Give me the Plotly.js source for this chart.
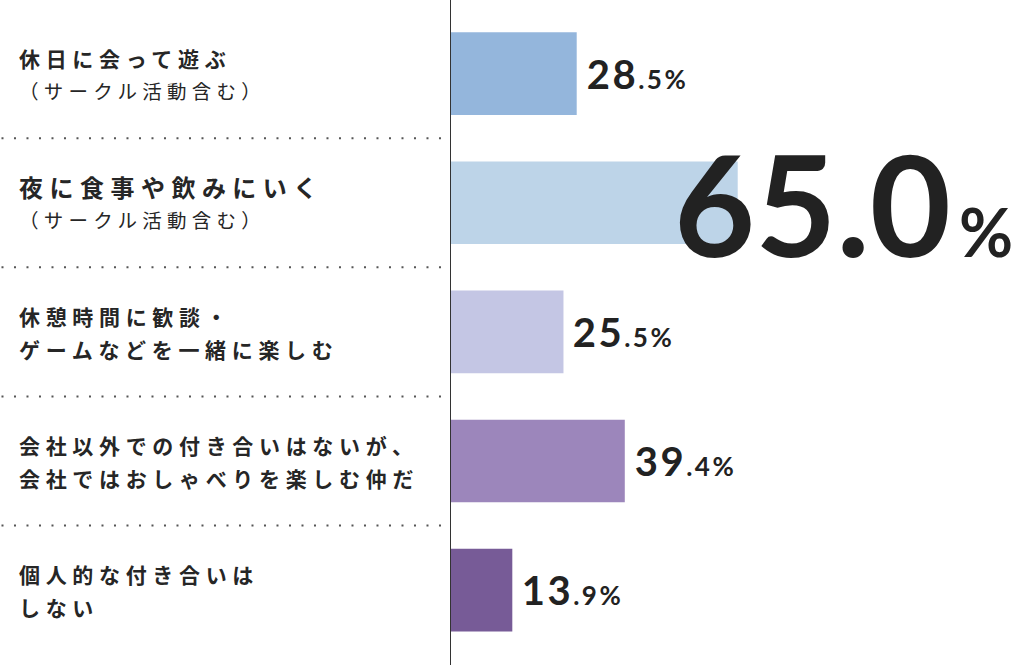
<!DOCTYPE html>
<html>
<head>
<meta charset="utf-8">
<script src="https://cdn.plot.ly/plotly-3.0.1.min.js"></script>
<style>
  html, body { margin: 0; padding: 0; background: #fff; }
  #chart { width: 1020px; height: 665px; }
</style>
</head>
<body>
<div id="chart"></div>
<script>
// answers, top to bottom
const lineOne = [
  '休日に会って遊ぶ',
  '夜に食事や飲みにいく',
  '休憩時間に歓談・',
  '会社以外での付き合いはないが、',
  '個人的な付き合いは'
];
const lineTwo = [
  '（サークル活動含む）',
  '（サークル活動含む）',
  'ゲームなどを一緒に楽しむ',
  '会社ではおしゃべりを楽しむ仲だ',
  'しない'
];
const lightSecond = [true, true, false, false, false];
const values = [28.5, 65.0, 25.5, 39.4, 13.9];
const barColors = ['#94b6dc', '#bdd4e8', '#c4c6e4', '#9c86bb', '#775b97'];

const categories = lineOne.map((s, i) => s + lineTwo[i]);
const peak = values.indexOf(Math.max(...values));

const trace = {
  type: 'bar',
  orientation: 'h',
  y: categories,
  x: values,
  width: 0.64,
  marker: { color: barColors, line: { width: 0 } },
  hoverinfo: 'skip'
};

const annotations = [];

// value labels first (indices 0..4)
values.forEach((v, i) => {
  const parts = v.toFixed(1).split('.');
  let txt, size;
  if (i === peak) {
    size = 140;
    txt = v.toFixed(1) + '<span style="font-size:66px">\u2009%</span>';
  } else {
    size = 40;
    txt = parts[0] + '<span style="font-size:26px">.' + parts[1] + '%</span>';
  }
  annotations.push({
    x: v, y: categories[i], xref: 'x', yref: 'y',
    text: txt, showarrow: false,
    xanchor: 'left', yanchor: 'middle',
    xshift: i === peak ? -66 : 14,
    yshift: 0,
    font: { family: 'Lato, sans-serif', size: size, color: '#222', weight: 700 }
  });
});

// category labels, two lines each
categories.forEach((c, i) => {
  annotations.push({
    x: 0, y: c, xref: 'paper', yref: 'y',
    text: lineOne[i], showarrow: false,
    xanchor: 'left', yanchor: 'middle', align: 'left',
    xshift: -434, yshift: 16,
    font: { family: '"Noto Sans CJK JP", sans-serif', size: i === peak ? 24 : 21, color: '#262626', weight: 700 }
  });
  annotations.push({
    x: 0, y: c, xref: 'paper', yref: 'y',
    text: lineTwo[i], showarrow: false,
    xanchor: 'left', yanchor: 'middle', align: 'left',
    xshift: -434, yshift: -17,
    font: { family: '"Noto Sans CJK JP", sans-serif', size: lightSecond[i] ? 19.5 : 21, color: '#262626', weight: lightSecond[i] ? 400 : 700 }
  });
});

// letter spacing: Japanese labels and the small value labels
const labelSel = [];
for (let k = values.length; k < annotations.length; k++) {
  labelSel.push('g.annotation[data-index="' + k + '"] text');
}
const valueSel = [];
values.forEach((v, k) => {
  if (k !== peak) valueSel.push('g.annotation[data-index="' + k + '"] text');
});
const st = document.createElement('style');
st.textContent = labelSel.join(',') + '{letter-spacing:0.27em;}' +
  valueSel.join(',') + '{letter-spacing:2.5px;}';
document.head.appendChild(st);

// dotted separators between rows
const shapes = [];
for (let k = 0; k < categories.length - 1; k++) {
  shapes.push({
    type: 'line', xref: 'paper', yref: 'y',
    x0: -0.79, x1: -0.014, y0: k + 0.5, y1: k + 0.5,
    line: { color: '#555', width: 2, dash: '2px,10.5px' }
  });
}

const layout = {
  width: 1020,
  height: 665,
  margin: { l: 451, r: 0, t: 0, b: 0 },
  paper_bgcolor: '#fff',
  plot_bgcolor: '#fff',
  showlegend: false,
  xaxis: {
    range: [0, 129],
    showgrid: false, zeroline: false, showticklabels: false, showline: false, ticks: ''
  },
  yaxis: {
    type: 'category',
    range: [4.58, -0.57],
    showgrid: false, zeroline: false, showticklabels: false, ticks: '',
    showline: true, linecolor: '#333', linewidth: 1.5
  },
  annotations: annotations,
  shapes: shapes
};

Plotly.newPlot('chart', [trace], layout, { displayModeBar: false, staticPlot: true });
</script>
</body>
</html>
